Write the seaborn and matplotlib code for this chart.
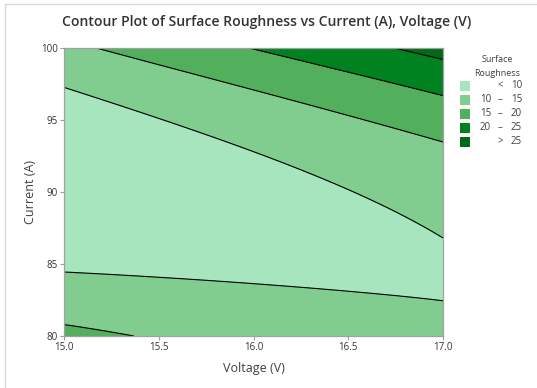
import numpy as np
import pandas as pd
import matplotlib
matplotlib.use("Agg")
import matplotlib.pyplot as plt
import seaborn as sns
from matplotlib.patches import Rectangle
from matplotlib.lines import Line2D

# ---- data: points (Voltage, Current, level) ----
line10_upper_V = [15.0, 15.40, 15.72, 16.35, 16.53, 16.67, 17.0]
line10_upper_I = [97.43, 95.42, 94.10, 91.25, 90.28, 89.24, 86.6]
line10_lower_V = [15.0, 15.40, 15.72, 16.35, 16.67, 17.0]
line10_lower_I = [84.65, 84.10, 83.75, 83.26, 82.99, 82.4]
line15_lower_V = [15.0, 15.25, 15.5]
line15_lower_I = [80.45, 80.25, 80.0]
line15_upper_V = [15.26, 15.65, 15.98, 16.35, 17.0]
line15_upper_I = [100.0, 98.26, 96.94, 95.76, 93.19]
line20_V = [15.91, 15.98, 16.51, 17.0]
line20_I = [100.0, 99.65, 98.26, 96.8]
line25_V = [16.77, 17.0]
line25_I = [100.0, 99.51]

levels = [10, 15, 20, 25]
legend_labels = [("", "<", "10"), ("10", "\u2013", "15"), ("15", "\u2013", "20"),
                 ("20", "\u2013", "25"), ("", ">", "25")]
colors = ["#a6e5bd", "#80cd8f", "#52b05d", "#008221", "#006b14"]
x_ticks = [15.0, 15.5, 16.0, 16.5, 17.0]
y_ticks = [80, 85, 90, 95, 100]

rows = []
for Vs, Is, z, wt in [(line10_upper_V, line10_upper_I, 10, 1.0),
                      (line10_lower_V, line10_lower_I, 10, 2.0),
                      (line15_lower_V, line15_lower_I, 15, 1.7),
                      (line15_upper_V, line15_upper_I, 15, 1.0),
                      (line20_V, line20_I, 20, 1.0),
                      (line25_V, line25_I, 25, 1.0)]:
    for v, i in zip(Vs, Is):
        rows.append((v, i, z, wt))
pts = pd.DataFrame(rows, columns=["V", "I", "Z", "W"])

def design(V, I):
    x = np.asarray(V, dtype=float) - 16.0
    y = (np.asarray(I, dtype=float) - 90.0) / 10.0
    return np.stack([np.ones_like(x), x, y, x * x, x * y, y * y,
                     x ** 3, x * x * y, x * y * y, y ** 3, y ** 4, x * y ** 3], axis=-1)

# surface fitted through the contour points; weights turn level errors into
# position errors (so flat regions are not under-weighted)
A = design(pts.V, pts.I)
w = pts.W.values.copy()
for _ in range(8):
    coef, *_ = np.linalg.lstsq(A * w[:, None], pts.Z.values * w, rcond=None)
    dV = (design(pts.V + 1e-3, pts.I) - design(pts.V - 1e-3, pts.I)) @ coef / 2e-3
    dI = (design(pts.V, pts.I + 1e-2) - design(pts.V, pts.I - 1e-2)) @ coef / 2e-2
    g = np.hypot(dV * 2 / 379, dI * 20 / 288)
    w = pts.W.values / np.maximum(g, 1e-3)

Vg, Ig = np.meshgrid(np.linspace(15, 17, 300), np.linspace(80, 100, 300))
Zg = design(Vg, Ig) @ coef

# ---- figure ----
sns.set_theme(style="white")
plt.rcParams["font.family"] = ["Open Sans", "DejaVu Sans"]
pal = sns.color_palette(colors)

fig = plt.figure(figsize=(5.37, 3.88), dpi=100)
ax = fig.add_axes([64 / 537, 1 - 336 / 388, (443 - 64) / 537, (336 - 48) / 388])
ax.contourf(Vg, Ig, Zg, levels=[-1e9] + levels + [1e9], colors=pal)
ax.contour(Vg, Ig, Zg, levels=levels, colors="black", linewidths=0.8)

ax.set_xlim(15, 17)
ax.set_ylim(80, 100)
ax.set_xticks(x_ticks)
ax.set_xticklabels([f"{t:.1f}" for t in x_ticks])
ax.set_yticks(y_ticks)
ax.set_yticklabels([str(t) for t in y_ticks])
ax.tick_params(axis="both", labelsize=7, colors="#a0a0a0", labelcolor="#333333",
               length=3, width=0.8, direction="out", bottom=True, left=True, pad=1.5)
for s in ax.spines.values():
    s.set_color("#a0a0a0")
    s.set_linewidth(0.9)

ax.set_xlabel("Voltage (V)", fontsize=9, color="#404040", labelpad=6)
ax.set_ylabel("Current (A)", fontsize=9, color="#404040", labelpad=3)
fig.text(0.497, 1 - 22 / 388, "Contour Plot of Surface Roughness vs Current (A), Voltage (V)",
         ha="center", va="center", fontsize=10.1, fontweight="semibold", color="#333333")

# legend
fig.text(497 / 537, 1 - 60 / 388, "Surface", ha="center", va="center", fontsize=6.5, color="#404040")
fig.text(497 / 537, 1 - 73 / 388, "Roughness", ha="center", va="center", fontsize=6.5, color="#404040")
centers = [86, 100, 114, 128, 142]
for (a, sym, b), c, cy in zip(legend_labels, pal, centers):
    fig.add_artist(Rectangle((460 / 537, 1 - (cy + 5) / 388), 10 / 537, 10 / 388,
                             transform=fig.transFigure, facecolor=c, edgecolor="none"))
    if a:
        fig.text(491 / 537, 1 - cy / 388, a, ha="right", va="center", fontsize=7, color="#404040")
    fig.text(500 / 537, 1 - cy / 388, sym, ha="center", va="center", fontsize=7, color="#404040")
    fig.text(522 / 537, 1 - cy / 388, b, ha="right", va="center", fontsize=7, color="#404040")

# outer frame
fig.add_artist(Line2D([5 / 537, 5 / 537], [0, 1 - 4 / 388], transform=fig.transFigure,
                      color="#d9d9d9", lw=1))
fig.add_artist(Line2D([5 / 537, 1], [1 - 4 / 388, 1 - 4 / 388], transform=fig.transFigure,
                      color="#d9d9d9", lw=1))

fig.savefig("out.png", dpi=100)
